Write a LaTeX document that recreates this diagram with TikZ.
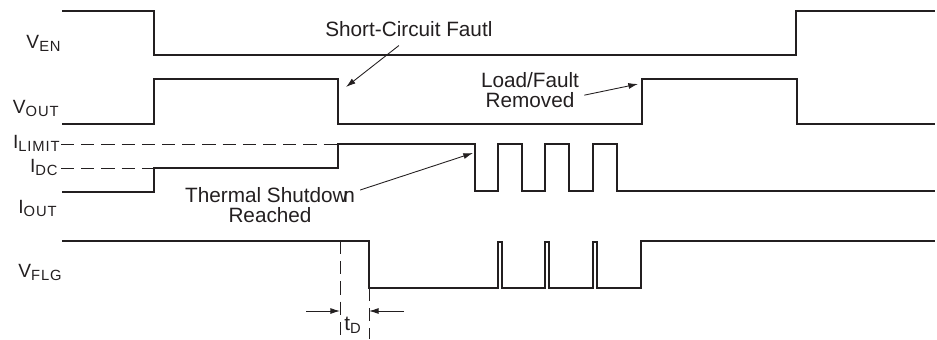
\documentclass[tikz,border=0pt]{standalone}
\usepackage{fontspec}
\setmainfont{Liberation Sans}
\usepackage{xcolor}
\usepackage{tikz}
\usetikzlibrary{arrows.meta}
\definecolor{TraceInk}{HTML}{231F20}
\newcommand{\sig}[2]{#1\raisebox{-2pt}{\fontsize{8.4}{8.4}\selectfont\addfontfeature{LetterSpace=6}#2}}

\begin{document}
\begin{tikzpicture}[x=0.02cm,y=-0.02cm,
  trace/.style={draw=TraceInk,line width=1pt},
  refline/.style={draw=TraceInk,line width=0.5pt,dash pattern=on 7.5pt off 4pt},
  arr/.style={-{Latex[length=5.5pt,width=3.4pt]},draw=TraceInk,line width=0.5pt},
  note/.style={font=\fontsize{11.8}{11.6}\selectfont,text=TraceInk,align=center,inner sep=0pt},
  signame/.style={font=\fontsize{10.9}{12}\selectfont,text=TraceInk,anchor=base east,inner sep=0pt}
]
\useasboundingbox (0,0) rectangle (937,339);

\node[signame] (ven) at (61,48) {\sig{V}{EN}};
\node[signame] (vout) at (59,113) {\sig{V}{OUT}};
\node[signame] (ilimit) at (60,148) {\sig{I}{LIMIT}};
\node[signame] (idc) at (58,172) {\sig{I}{DC}};
\node[signame] (iout) at (57,213) {\sig{I}{OUT}};
\node[signame] (vflg) at (62,277) {\sig{V}{FLG}};

\draw[trace] (62,11) -| (154,55) -| (796,11) -- (935,11);
\draw[trace] (62,124) -| (154,79) -| (338,124) -| (642,79) -| (797,124) -- (935,124);
\draw[refline] (61,144) -- (338,144);
\draw[refline] (61,168) -- (154,168);
\draw[trace] (62,192) -| (154,168) -| (338,144) -| (475,191) -| (498,144) -| (522,191)
  -| (545,144) -| (569,191) -| (593,144) -| (617,191) -- (935,191);
\draw[trace] (62,241) -| (369,288) -| (498,242) -| (502,288) -| (545,242) -| (549,288)
  -| (593,242) -| (597,288) -| (641,241) -- (935,241);
\draw[refline] (340,241) -- (340,339);
\draw[refline] (369,288) -- (369,339);

\coordinate (scf) at (346,87);
\coordinate (lfr) at (638,84);
\coordinate (tsr) at (473,153);
\coordinate (tdl) at (340,311);
\coordinate (tdr) at (369,311);
\coordinate (tdla) at (306,311);
\coordinate (tdra) at (404,311);

\node[note,anchor=base west] (scfnote) at (325,36) {Short-Circuit Fautl};
\node[note,anchor=north] (lfnote) at (530,72) {Load/Fault\\Removed};
\node[note,anchor=north] (tsnote) at (270,187) {Thermal Shutdow\kern-2.5pt n\\Reached};
\node[note,anchor=base west] (td) at (344,330) {\sig{t}{D}};

\draw[arr] ([shift={(-10,9)}]scfnote.south) -- (scf);
\draw[arr] ([shift={(5,5)}]lfnote.east) -- (lfr);
\draw[arr] ([shift={(5,3)}]tsnote.north east) -- (tsr);
\draw[arr] (tdla) -- (tdl);
\draw[arr] (tdra) -- (tdr);
\end{tikzpicture}
\end{document}
